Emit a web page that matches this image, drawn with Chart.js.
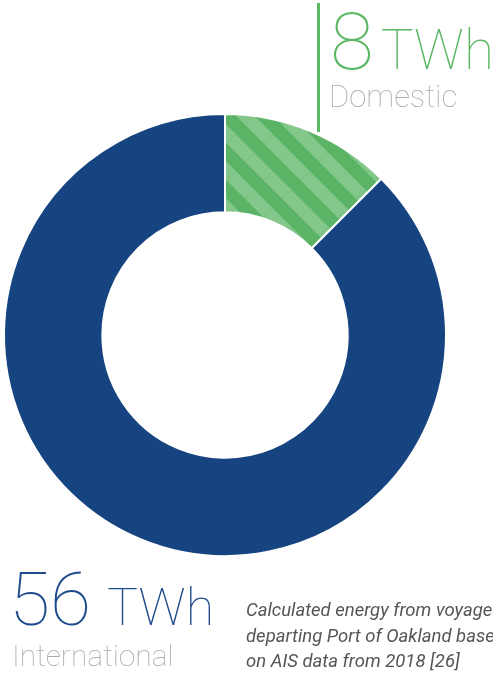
<!DOCTYPE html>
<html>
<head>
<meta charset="utf-8">
<script src="https://cdn.jsdelivr.net/npm/chart.js@4.4.1/dist/chart.umd.min.js"></script>
<style>
  html, body { margin: 0; padding: 0; background: #fff; }
  #wrap { position: relative; width: 493px; height: 673px; overflow: hidden; font-family: Roboto, "Noto Sans", sans-serif; }
  #chart { position: absolute; left: 0; top: 0; }
  .lbl { position: absolute; white-space: nowrap; line-height: 1; font-weight: 100; }
  #rule { position: absolute; left: 317px; top: 3px; width: 3px; height: 129px; background: #5db865; }
  #caption { position: absolute; left: 246px; top: 598px; font-size: 18.5px; line-height: 25.5px; font-style: italic; color: #555; white-space: nowrap; font-weight: 400; }
</style>
</head>
<body>
<div id="wrap">
  <canvas id="chart" width="493" height="673"></canvas>
  <div id="rule"></div>
  <div class="lbl" id="domVal" style="left:330px; top:2px; color:#5db865;"><span style="font-size:80px">8</span><span style="font-size:55px; margin-left:7px">TWh</span></div>
  <div class="lbl" id="domName" style="left:329px; top:81px; font-size:31px; color:#aaa;">Domestic</div>
  <div class="lbl" id="intVal" style="left:9px; top:562px; color:#1d4b8c;"><span style="font-size:75px">56</span><span style="font-size:52px; margin-left:16px">TWh</span></div>
  <div class="lbl" id="intName" style="left:12px; top:641px; font-size:30px; color:#aaa;">International</div>
  <div id="caption"></div>
</div>
<script>
// data
const categories = ["Domestic", "International"];
const energyTWh  = [8, 56];
const units      = "TWh";
const captionLines = [
  "Calculated energy from voyages",
  "departing Port of Oakland based",
  "on AIS data from 2018 [26]"
];

(() => {
  document.getElementById("caption").innerHTML = captionLines.join("<br>");

  /* diagonal green hatch for the domestic slice */
  function hatch() {
    const P = 37;
    const c = document.createElement("canvas");
    c.width = P; c.height = P;
    const g = c.getContext("2d");
    g.fillStyle = "#84c78a";
    g.fillRect(0, 0, P, P);
    // faint cross lines in the light bands
    g.strokeStyle = "#77be7d";
    g.lineWidth = 1;
    g.beginPath();
    g.moveTo(0, P); g.lineTo(P, 0);
    g.stroke();
    // dark bands, "\" direction
    g.strokeStyle = "#5bb466";
    g.lineWidth = P / (2 * Math.SQRT2);
    for (let k = -1; k <= 1; k++) {
      g.beginPath();
      g.moveTo(-P, -P + k * P);
      g.lineTo(2 * P, 2 * P + k * P);
      g.stroke();
    }
    return g.createPattern(c, "repeat");
  }

  const ctx = document.getElementById("chart").getContext("2d");
  new Chart(ctx, {
    type: "doughnut",
    data: {
      labels: categories,
      datasets: [{
        data: energyTWh,
        backgroundColor: [hatch(), "#154480"],
        borderColor: "#fff",
        borderWidth: 2,
      }],
    },
    options: {
      responsive: false,
      animation: false,
      cutout: "55.5%",
      layout: { padding: { left: 3, right: 46, top: 113, bottom: 116 } },
      plugins: {
        legend: { display: false },
        tooltip: { enabled: false },
      },
    },
  });
})();
</script>
</body>
</html>
